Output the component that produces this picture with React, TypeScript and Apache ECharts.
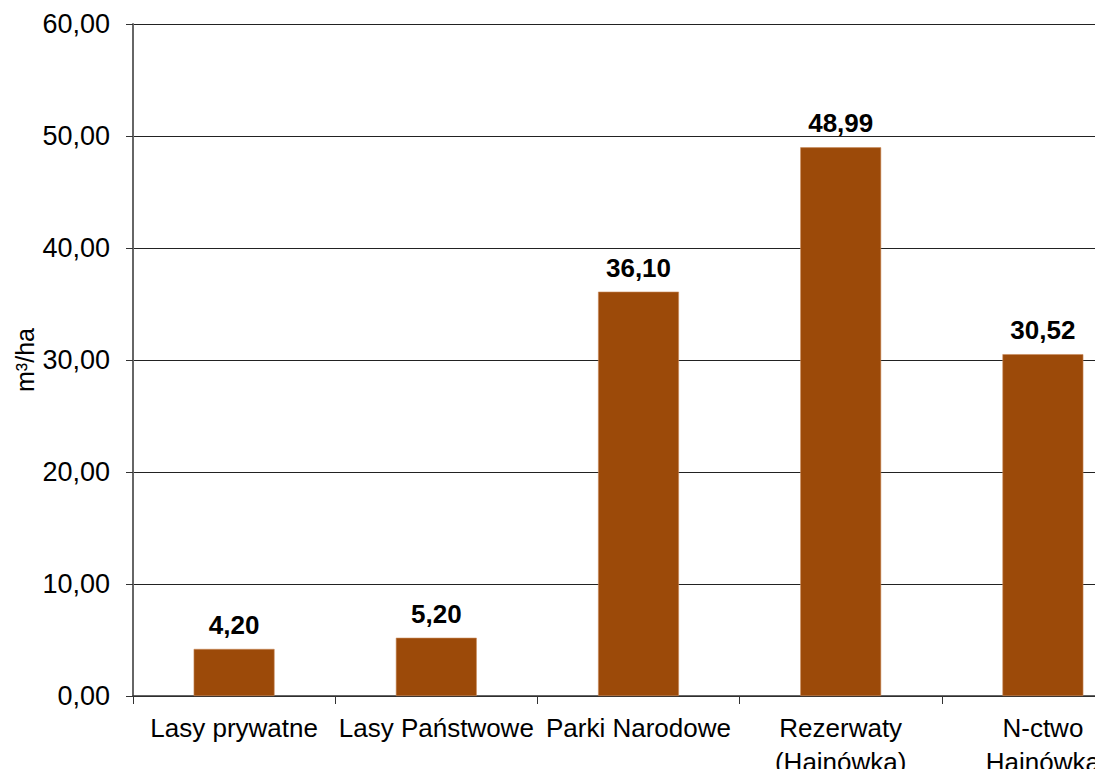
import React, { useEffect, useRef } from "react";
import * as echarts from "echarts";

const categories = [
  "Lasy prywatne",
  "Lasy Państwowe",
  "Parki Narodowe",
  "Rezerwaty\n(Hajnówka)",
  "N-ctwo\nHajnówka",
];
const values = [4.2, 5.2, 36.1, 48.99, 30.52];
const yTicks = { min: 0, max: 60, interval: 10 };
const yAxisName = "m³/ha";

const fmt = (v: number) => v.toFixed(2).replace(".", ",");

export default function App() {
  const ref = useRef<HTMLDivElement>(null);
  useEffect(() => {
    if (!ref.current) return;
    const chart = echarts.init(ref.current, null, { renderer: "svg" });
    const font = "'Liberation Sans', Arial, sans-serif";
    chart.setOption({
      animation: false,
      backgroundColor: "#ffffff",
      grid: {
        left: 133,
        top: 24,
        bottom: 73,
        right: 56,
        containLabel: false,
        outerBoundsMode: "none",
      },
      xAxis: {
        type: "category",
        data: categories,
        axisLine: { lineStyle: { color: "#333", width: 1.5 } },
        axisTick: { show: true, length: 8, lineStyle: { color: "#333" } },
        axisLabel: {
          interval: 0,
          color: "#000",
          fontFamily: font,
          fontSize: 26,
          lineHeight: 34,
          margin: 15,
        },
      },
      yAxis: {
        type: "value",
        min: yTicks.min,
        max: yTicks.max,
        interval: yTicks.interval,
        name: yAxisName,
        nameLocation: "middle",
        nameGap: 96,
        nameMoveOverlap: false,
        nameRotate: 90,
        nameTextStyle: { color: "#000", fontFamily: font, fontSize: 25 },
        axisLine: { show: true, lineStyle: { color: "#666", width: 2 } },
        axisTick: { show: true, length: 7, lineStyle: { color: "#333" } },
        axisLabel: {
          color: "#000",
          fontFamily: font,
          fontSize: 27,
          margin: 23,
          formatter: (v: number) => fmt(v),
        },
        splitLine: { show: true, lineStyle: { color: "#222", width: 1 } },
      },
      series: [
        {
          type: "bar",
          data: values,
          barWidth: "40%",
          itemStyle: { color: "#9C4A09", borderColor: "#C98A5A", borderWidth: 0.6 },
          label: {
            show: true,
            position: "top",
            distance: 11,
            color: "#000",
            fontFamily: font,
            fontSize: 26,
            fontWeight: "bold",
            formatter: (p: any) => fmt(p.value),
          },
        },
      ],
    });
    return () => chart.dispose();
  }, []);
  return (
    <div
      ref={ref}
      style={{ position: "fixed", left: 0, top: 0, width: 1200, height: 769, background: "#fff" }}
    />
  );
}
